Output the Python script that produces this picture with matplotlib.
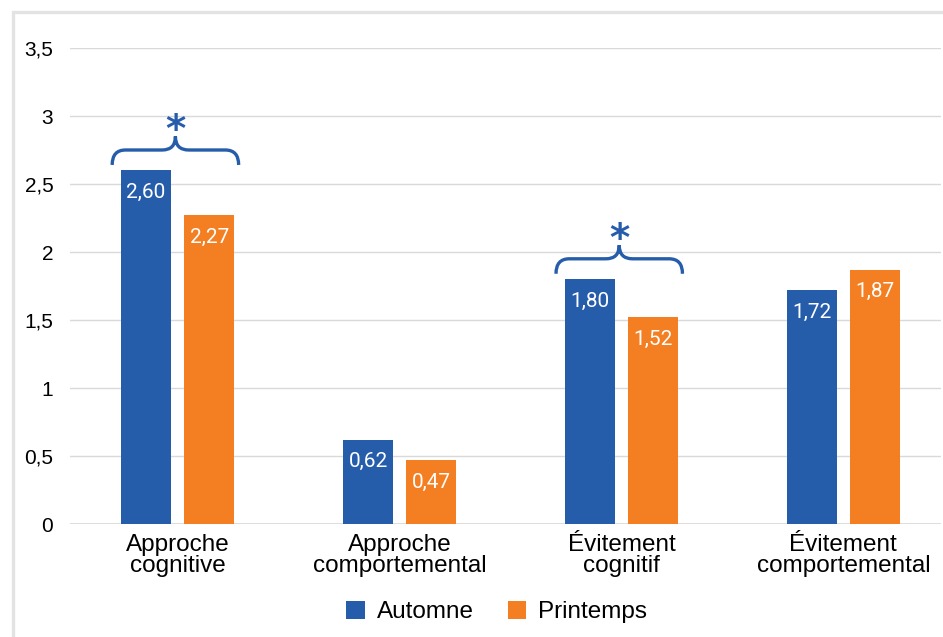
import numpy as np
import matplotlib.pyplot as plt
from matplotlib.path import Path
from matplotlib.patches import PathPatch, Rectangle

categories = ['Approche\ncognitive', 'Approche\ncomportemental',
              'Évitement\ncognitif', 'Évitement\ncomportemental']
automne = [2.60, 0.62, 1.80, 1.72]
printemps = [2.27, 0.47, 1.52, 1.87]
series_names = ['Automne', 'Printemps']
significant = [0, 2]  # groups marked with a brace and *
yticks = [0, 0.5, 1, 1.5, 2, 2.5, 3, 3.5]

blue = '#265dab'
orange = '#f37f22'
narrow = ['Liberation Sans', 'DejaVu Sans']

fig = plt.figure(figsize=(9.43, 6.37), dpi=100)
ax = fig.add_axes([70 / 943, 113 / 637, 871 / 943, 476 / 637])

# light frame around the chart
fig.patches.append(Rectangle((13 / 943, -0.1), 1.2, (637 - 12) / 637 + 0.1,
                             transform=fig.transFigure, fill=False,
                             edgecolor='#e3e3e3', linewidth=2.4))

x = np.arange(len(categories))
w = 0.225
off = 0.142
b1 = ax.bar(x - off, automne, w, color=blue, label=series_names[0], zorder=3)
b2 = ax.bar(x + off, printemps, w, color=orange, label=series_names[1], zorder=3)

for bars, vals in [(b1, automne), (b2, printemps)]:
    for r, v in zip(bars, vals):
        ax.annotate(f'{v:.2f}'.replace('.', ','),
                    (r.get_x() + r.get_width() / 2, v),
                    xytext=(0, -9), textcoords='offset points',
                    ha='center', va='top', color='white',
                    fontsize=15, family=['Roboto', 'DejaVu Sans'], zorder=4)


def brace(ax, xl, xr, yb, color):
    # curly brace opening downward
    xc = (xl + xr) / 2
    yh = yb + 0.11
    yp = yb + 0.21
    rx = 0.06
    verts = [(xl, yb), (xl, yh), (xl + rx, yh),
             (xc - rx, yh), (xc, yh), (xc, yp),
             (xc, yh), (xc + rx, yh),
             (xr - rx, yh), (xr, yh), (xr, yb)]
    codes = [Path.MOVETO, Path.CURVE3, Path.CURVE3,
             Path.LINETO, Path.CURVE3, Path.CURVE3,
             Path.CURVE3, Path.CURVE3,
             Path.LINETO, Path.CURVE3, Path.CURVE3]
    ax.add_patch(PathPatch(Path(verts, codes), fill=False, edgecolor=color,
                           linewidth=2.4, capstyle='butt', zorder=5))
    ax.text(xc, yp + 0.04, '*', ha='center', va='center', color=color,
            fontsize=28, fontweight='bold', family='DejaVu Sans', zorder=5)


for g in significant:
    top = max(automne[g], printemps[g])
    brace(ax, g - 0.295, g + 0.275, top + 0.04, blue)

ax.set_xlim(-0.485, 3.44)
ax.set_ylim(0, 3.5)
ax.set_yticks(yticks)
ax.set_yticklabels([f'{t:g}'.replace('.', ',') for t in yticks],
                   fontsize=15, family=narrow)
ax.set_xticks(x)
ax.set_xticklabels(categories, fontsize=17.5, family=narrow, linespacing=0.95)
ax.tick_params(axis='both', length=0)
ax.tick_params(axis='y', pad=12)
ax.tick_params(axis='x', pad=7)
ax.grid(axis='y', color='#d9d9d9', linewidth=1, zorder=0)
for s in ax.spines.values():
    s.set_visible(False)
ax.axhline(0, color='#d9d9d9', linewidth=1.2, zorder=1)

ax.legend(loc='center', bbox_to_anchor=(0.49, -0.185), ncol=2, frameon=False,
          prop={'family': narrow, 'size': 17.5}, handlelength=0.75,
          handleheight=0.75, columnspacing=1.4, handletextpad=0.5)

fig.savefig('out.png', dpi=100)
